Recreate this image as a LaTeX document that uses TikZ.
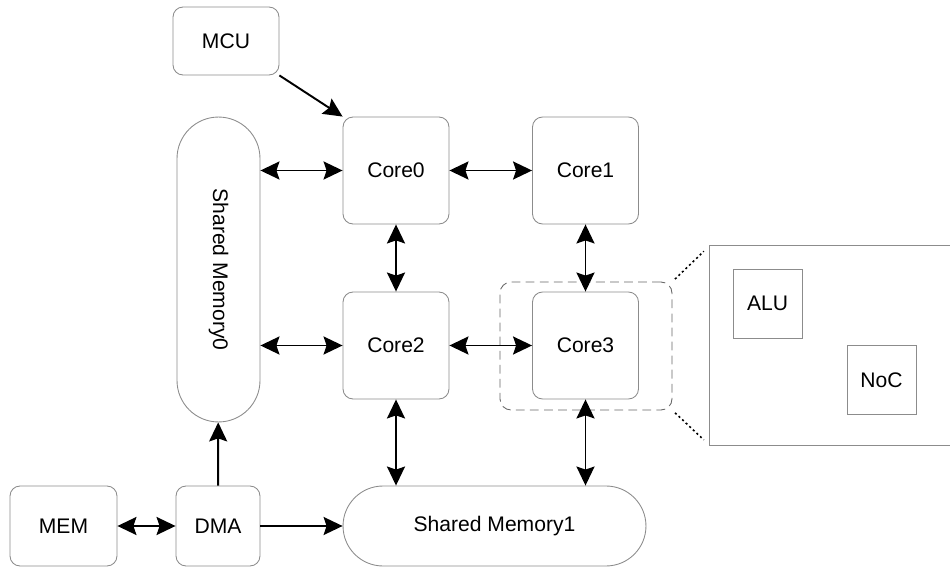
\documentclass[tikz,border=0pt]{standalone}
\usepackage{fontspec}
\setmainfont{Liberation Sans}
\usetikzlibrary{arrows.meta}

\tikzset{
	block/.style={draw=black!45, line width=0.5pt, rounded corners=0.2cm, align=center, inner sep=0pt, font=\fontsize{12}{14}\selectfont},
	core/.style={block, minimum width=2.12cm, minimum height=2.14cm},
	plain/.style={block, rounded corners=0pt, minimum width=1.38cm, minimum height=1.38cm},
	link/.style={line width=1.1pt, -{Stealth[length=0.38cm, width=0.36cm, inset=0.06cm]}},
	duplex/.style={link, {Stealth[length=0.38cm, width=0.36cm, inset=0.06cm]}-{Stealth[length=0.38cm, width=0.36cm, inset=0.06cm]}}
}

\begin{document}
\begin{tikzpicture}[x=0.02cm, y=-0.02cm]
	\useasboundingbox (0,0) rectangle (950,567);

	\node[block, minimum width=2.12cm, minimum height=1.36cm] (mcu) at (226,41) {MCU};
	\node[block, minimum width=1.66cm, minimum height=6.1cm, rounded corners=0.83cm] (sm0) at (218.5,269.5) {\rotatebox{-90}{Shared Memory0}};

	\foreach \n/\x/\y in {0/396/170.5, 1/585.5/170.5, 2/396/345.5, 3/585.5/345.5}
		\node[core] (core\n) at (\x,\y) {Core\n};

	\node[draw=black!60, line width=0.5pt, dash pattern=on 5pt off 3pt, rounded corners=0.22cm,
		minimum width=3.44cm, minimum height=2.56cm] (zone) at (586,346) {};
	\node[minimum width=4.8cm, minimum height=3.98cm, inner sep=0pt] (detail) at (830,345.5) {};
	\draw[black!45, line width=0.5pt] (detail.north east) -- (detail.north west) -- (detail.south west) -- (detail.south east);
	\node[plain] (alu) at (767.5,303.5) {ALU};
	\node[plain] (noc) at (881.5,380) {NoC};

	\node[block, minimum width=2.14cm, minimum height=1.6cm] (mem) at (63.5,526) {MEM};
	\node[block, minimum width=1.68cm, minimum height=1.6cm] (dma) at (218,526) {DMA};
	\node[block, minimum width=6.06cm, minimum height=1.6cm, rounded corners=0.8cm] (sm1) at (494.5,526) {Shared Memory1};

	% zoom lines
	\draw[line width=0.9pt, dash pattern=on 1.2pt off 1.6pt, shorten <=2pt, shorten >=0.16cm] (zone.north east) -- (detail.north west);
	\draw[line width=0.9pt, dash pattern=on 1.2pt off 1.6pt, shorten <=2pt, shorten >=0.16cm] (zone.south east) -- (detail.south west);

	% connections
	\draw[link] (mcu.south east) -- (core0.north west);
	\draw[duplex] (sm0.east |- core0) -- (core0.west);
	\draw[duplex] (sm0.east |- core2) -- (core2.west);
	\draw[duplex] (core0) -- (core1);
	\draw[duplex] (core2) -- (core3);
	\draw[duplex] (core0) -- (core2);
	\draw[duplex] (core1) -- (core3);
	\draw[duplex] (core2.south) -- (core2.south |- sm1.north);
	\draw[duplex] (core3.south) -- (core3.south |- sm1.north);
	\draw[duplex] (mem) -- (dma);
	\draw[link] (dma) -- (sm0);
	\draw[link] (dma) -- (sm1);
\end{tikzpicture}
\end{document}
